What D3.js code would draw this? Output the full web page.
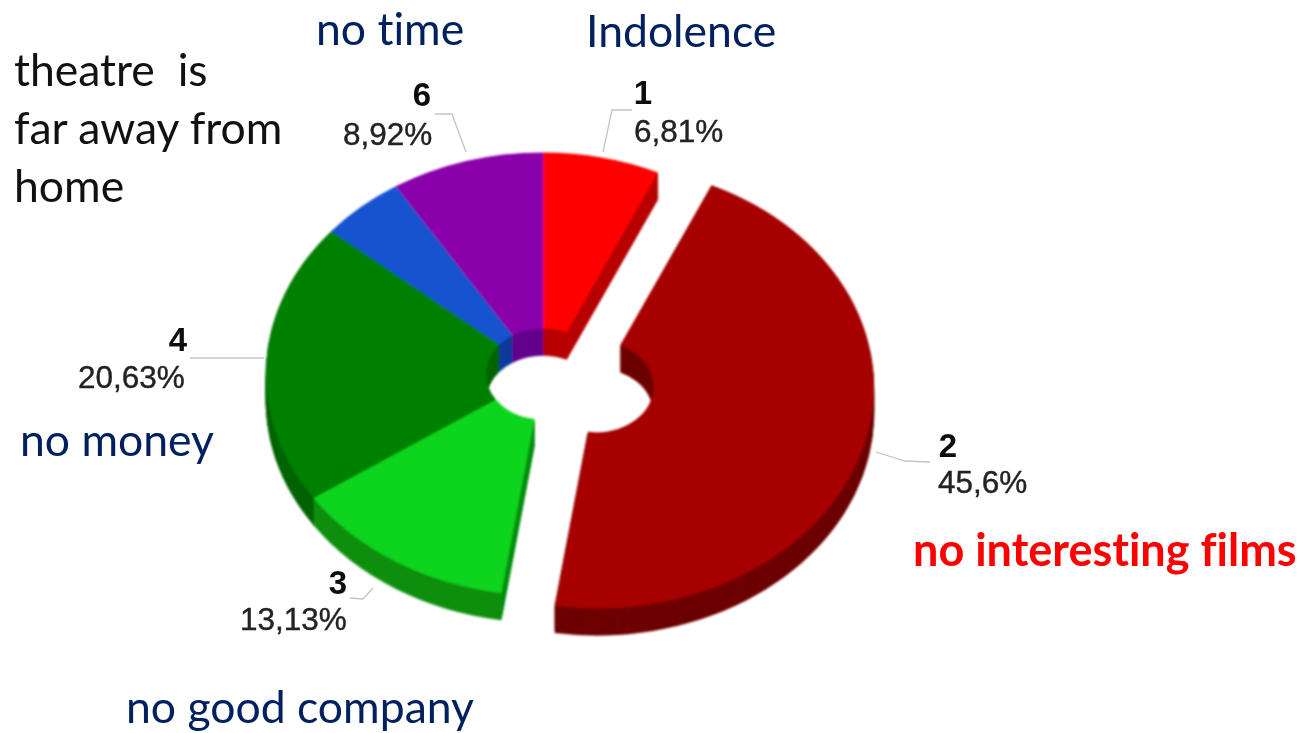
<!DOCTYPE html>
<html>
<head>
<meta charset="utf-8">
<script src="https://cdn.jsdelivr.net/npm/d3@7"></script>
<style>
  html, body { margin: 0; background: #fff; }
  svg { display: block; }
  .caption { font-family: Lato, sans-serif; white-space: pre; font-variant-ligatures: none; }
  .pct { font-family: "Liberation Sans", Arial, sans-serif; fill: #222; stroke: #222; stroke-width: 0.4; }
  .num { font-family: "Liberation Sans", Arial, sans-serif; font-weight: bold; fill: #111; }
</style>
</head>
<body>
<svg id="chart" width="1300" height="733"></svg>
<script>
// slice data
const sliceIds = ["1", "2", "3", "4", "5", "6"];
const shares = [6.81, 45.6, 13.13, 20.63, 4.91, 8.92];
const labelled = [true, true, true, true, false, true];
const exploded = [false, true, false, false, false, false];
const topColors = ["#ff0000", "#a60000", "#0bd41f", "#008000", "#1252cf", "#8a00aa"];
const sideColors = ["#b80000", "#6e0000", "#0a9012", "#006400", "#0a3a9c", "#64008c"];

const captions = ["no time", "Indolence", "theatre  is", "far away from", "home", "no money", "no good company", "no interesting films"];
const captionColors = ["#002060", "#002060", "#111", "#111", "#111", "#002060", "#002060", "#ff0000"];

// layout
const cx = 543, cy = 374, rx = 277, tilt = 0.8, holeR = 57, depth = 27, explodeBy = 56;
const captionPos = [[316, 45], [586, 47], [14, 86], [14, 144], [14, 202], [20, 456], [126, 723], [913, 566]];
const numPos = [[643, 104], [948, 457], [338, 594], [178, 351], null, [422, 106]];
const pctPos = [[634, 142], [938, 493], [240, 630], [78, 388], null, [343, 145]];
const leaders = [
  [[603, 152], [612, 110], [632, 110]],
  [[876, 452], [905, 461], [930, 462]],
  [[373, 588], [363, 599], [350, 598]],
  [[264, 358], [190, 358]],
  null,
  [[466, 152], [452, 114], [435, 114]]
];

const svg = d3.select("#chart");
const defs = svg.append("defs");
defs.append("filter").attr("id", "soft")
  .append("feGaussianBlur").attr("stdDeviation", 0.9);
defs.append("filter").attr("id", "softText")
  .append("feGaussianBlur").attr("stdDeviation", 0.6);

const pieData = d3.pie().sort(null)(shares).map((d, i) => {
  const mid = (d.startAngle + d.endAngle) / 2;
  const off = exploded[i] ? explodeBy : 0;
  return { ...d, i, ox: Math.sin(mid) * off, oy: -Math.cos(mid) * off * tilt };
});

const arc = d3.arc().innerRadius(holeR).outerRadius(rx);
const pieG = svg.append("g").attr("filter", "url(#soft)");

// side walls: stacked copies from the bottom up, top faces go on last
const layers = d3.range(depth, 0, -1);
pieG.selectAll("g.layer")
  .data(layers)
  .join("g")
  .attr("class", "layer")
  .selectAll("path")
  .data(h => pieData.map(d => ({ ...d, h })))
  .join("path")
  .attr("transform", d => `translate(${cx + d.ox},${cy + d.oy + d.h}) scale(1,${tilt})`)
  .attr("d", arc)
  .attr("fill", d => sideColors[d.i])
  .attr("stroke", d => sideColors[d.i])
  .attr("stroke-width", 0.5);

pieG.selectAll("path.top")
  .data(pieData)
  .join("path")
  .attr("class", "top")
  .attr("transform", d => `translate(${cx + d.ox},${cy + d.oy}) scale(1,${tilt})`)
  .attr("d", arc)
  .attr("fill", d => topColors[d.i]);

// leader lines
const leaderLine = d3.line();
svg.selectAll("path.leader")
  .data(leaders.filter(d => d))
  .join("path")
  .attr("class", "leader")
  .attr("d", leaderLine)
  .attr("fill", "none")
  .attr("stroke", "#c4c4c4")
  .attr("stroke-width", 1.3);

// slice labels
const labelG = svg.append("g").attr("filter", "url(#softText)");
const shown = sliceIds.map((id, i) => i).filter(i => labelled[i]);

labelG.selectAll("text.num")
  .data(shown)
  .join("text")
  .attr("class", "num")
  .attr("x", i => numPos[i][0])
  .attr("y", i => numPos[i][1])
  .attr("text-anchor", "middle")
  .attr("font-size", 33)
  .text(i => sliceIds[i]);

labelG.selectAll("text.pct")
  .data(shown)
  .join("text")
  .attr("class", "pct")
  .attr("x", i => pctPos[i][0])
  .attr("y", i => pctPos[i][1])
  .attr("font-size", 31.5)
  .text(i => String(shares[i]).replace(".", ",") + "%");

// captions added on the slide
svg.selectAll("text.caption")
  .data(captions)
  .join("text")
  .attr("class", "caption")
  .attr("x", (d, i) => captionPos[i][0])
  .attr("y", (d, i) => captionPos[i][1])
  .attr("font-size", d => d === "no interesting films" ? 45 : 44.5)
  .attr("font-weight", d => d === "no interesting films" ? 700 : 400)
  .attr("fill", (d, i) => captionColors[i])
  .text(d => d);
</script>
</body>
</html>
